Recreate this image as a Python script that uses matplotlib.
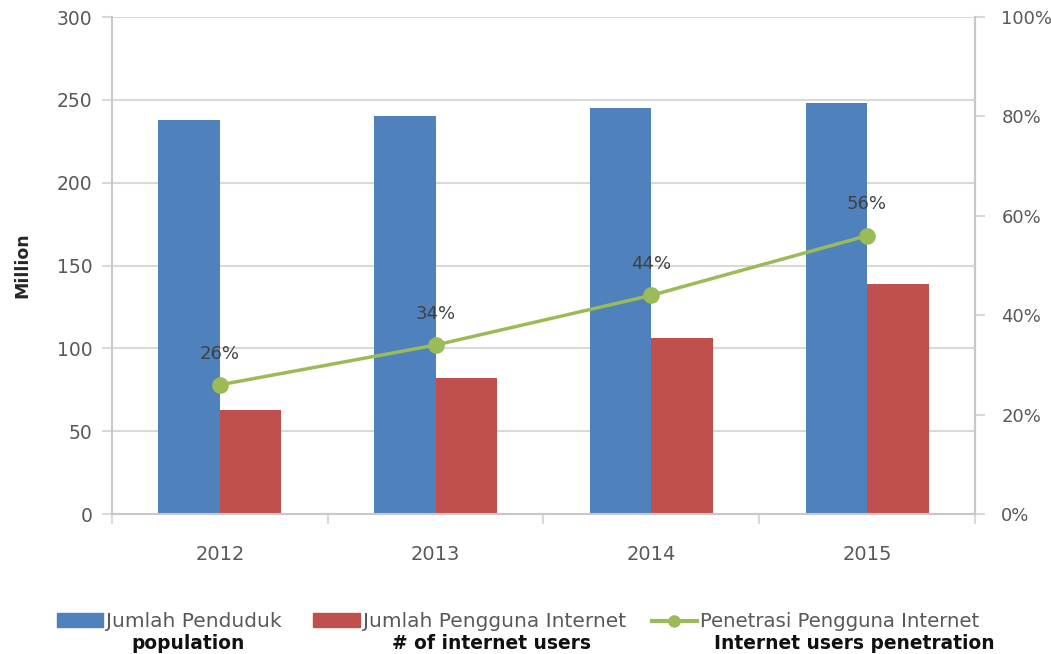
import numpy as np
import matplotlib.pyplot as plt
from matplotlib.lines import Line2D
from matplotlib.patches import Patch

# Indonesia population vs internet users
years = ['2012', '2013', '2014', '2015']
population = [238, 240, 245, 248]          # million
internet_users = [63, 82, 106, 139]        # million
penetration = [26, 34, 44, 56]             # percent

legend_labels = ['Jumlah Penduduk', 'Jumlah Pengguna Internet', 'Penetrasi Pengguna Internet']
english_labels = ['population', '# of internet users', 'Internet users penetration']

blue = '#4f81bd'
red = '#c0504d'
green = '#9bbb59'
grey_txt = '#595959'
grid_col = '#d9d9d9'

plt.rcParams['font.family'] = ['DejaVu Sans']

fig = plt.figure(figsize=(10.51, 6.54), dpi=100)
ax = fig.add_axes([0.1066, 0.214, 0.821, 0.760])

x = np.arange(len(years))
w = 0.285
ax.bar(x - w / 2, population, w, color=blue, zorder=2)
ax.bar(x + w / 2, internet_users, w, color=red, zorder=2)

ax.set_xlim(-0.5, len(years) - 0.5)
ax.set_ylim(0, 300)
ax.set_yticks(np.arange(0, 301, 50))
ax.yaxis.grid(True, color=grid_col, linewidth=1.5, zorder=0)
ax.set_axisbelow(True)

ax.set_xticks(x)
ax.set_xticklabels(years)
ax.set_xticks(np.arange(-0.5, len(years), 1), minor=True)
ax.tick_params(axis='x', which='major', length=0, pad=22, labelsize=14, labelcolor=grey_txt)
ax.tick_params(axis='x', which='minor', length=7, width=1.5, color=grid_col)
ax.tick_params(axis='y', length=7, width=1.5, color=grid_col, labelsize=13.5, labelcolor=grey_txt, pad=7)

ax.spines['top'].set_visible(False)
for side in ['left', 'bottom', 'right']:
    ax.spines[side].set_color('#c8c8c8')
    ax.spines[side].set_linewidth(1.5)

ax.set_ylabel('Million', fontsize=12.5, fontweight='bold', color='#262626')
ax.yaxis.set_label_coords(-0.094, 0.5)

# penetration line on the secondary axis
ax2 = ax.twinx()
ax2.set_ylim(0, 100)
ax2.set_yticks(np.arange(0, 101, 20))
ax2.set_yticklabels(['{}%'.format(v) for v in range(0, 101, 20)])
ax2.tick_params(axis='y', length=7, width=1.5, color=grid_col, labelsize=13, labelcolor=grey_txt, pad=12)
for side in ['top', 'left', 'bottom']:
    ax2.spines[side].set_visible(False)
ax2.spines['right'].set_color('#c8c8c8')
ax2.spines['right'].set_linewidth(1.5)

ax2.plot(x, penetration, color=green, linewidth=2.5, marker='o', markersize=11, zorder=3)
for xi, p in zip(x, penetration):
    ax2.annotate('{}%'.format(p), xy=(xi, p), xytext=(0, 16), textcoords='offset points',
                 ha='center', va='bottom', fontsize=13, color='#404040')

# one legend box per series so each entry sits where it belongs
handles = [Patch(color=blue), Patch(color=red),
           Line2D([0], [0], color=green, linewidth=3, marker='o', markersize=8)]
for h, lab, xpos, fs in zip(handles, legend_labels, [0.054, 0.298, 0.620], [14.5, 14.5, 14.2]):
    fig.legend([h], [lab], loc='center left', bbox_to_anchor=(xpos, 0.049), frameon=False,
               fontsize=fs, labelcolor=grey_txt, handlelength=2.3, handletextpad=0.15,
               borderpad=0, borderaxespad=0)

for xpos, txt in zip([0.179, 0.468, 0.813], english_labels):
    fig.text(xpos, 0.016, txt, ha='center', va='center', fontsize=13.4, fontweight='bold', color='#111111')

fig.savefig('out.png', dpi=100)
